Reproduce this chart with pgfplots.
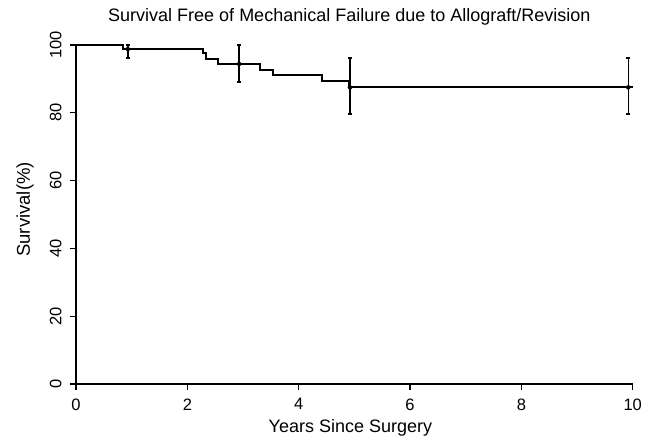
\documentclass[border=0pt]{standalone}
\usepackage{fontspec}
\setmainfont{Liberation Sans}
\usepackage{pgfplots}
\pgfplotsset{compat=1.18}
\usetikzlibrary{calc}

\begin{document}
\begin{tikzpicture}
\begin{axis}[
  scale only axis,
  width=556.7pt, height=339pt,
  xmin=0, xmax=10, ymin=0, ymax=100,
  axis lines=left,
  axis line style={-, line width=1.3pt},
  tick align=outside,
  major tick length=6pt,
  tick style={black, line width=1.3pt},
  xtick={0,2,...,10}, ytick={0,20,...,100},
  /pgf/number format/assume math mode=true,
  ticklabel style={font=\fontsize{16.5}{18}\selectfont},
  xticklabel style={yshift=-5pt},
  yticklabel style={rotate=90, anchor=south, yshift=5pt},
  title={Survival Free of Mechanical Failure due to Allograft/Revision},
  title style={font=\fontsize{18}{20}\selectfont, anchor=center,
    at={(axis description cs:0.491,1)}, yshift=22pt},
  xlabel={Years Since Surgery},
  xlabel style={font=\fontsize{18}{20}\selectfont, anchor=center,
    at={(axis description cs:0.493,0)}, yshift=-44pt},
  ylabel={Survival(\%)},
  ylabel style={font=\fontsize{18.5}{20}\selectfont, anchor=center,
    at={(axis description cs:0,0.515)}, yshift=51pt},
  clip=false,
]
  % Kaplan-Meier step curve
  \addplot[const plot, black, line width=2pt] coordinates {
    (0,100) (0.84,98.8) (2.28,97.6) (2.33,95.9) (2.55,94.4)
    (3.31,92.6) (3.54,91.2) (4.42,89.3) (4.91,87.5) (10,87.5)};
  % confidence bars
  \addplot[only marks, mark=none, black,
    error bars/.cd, y dir=both, y explicit,
    error bar style={line width=1.5pt},
    error mark options={line width=1.5pt, mark size=2pt, rotate=90}] coordinates {
    (0.93,98.8) += (0,1.2) -= (0,2.6)
    (2.93,94.4) += (0,5.6) -= (0,5.3)
    (4.92,87.5) += (0,8.6) -= (0,7.9)
    (9.92,87.5) += (0,8.6) -= (0,7.9)};
\end{axis}
\pgfresetboundingbox
\path ($(current axis.south west)+(-76pt,-62pt)$) rectangle ($(current axis.north east)+(16.3pt,45pt)$);
\end{tikzpicture}
\end{document}
